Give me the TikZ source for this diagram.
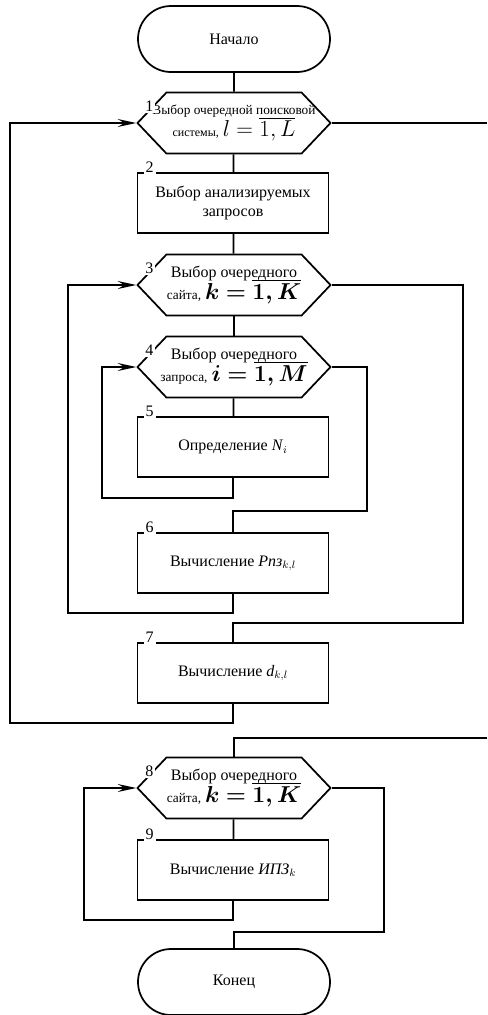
\documentclass[tikz,border=0pt]{standalone}
\usepackage{amsmath,amssymb}
\usepackage{bm}
\usepackage{fontspec}
\setmainfont{Liberation Serif}
\usetikzlibrary{positioning, shapes.misc, shapes.symbols, arrows.meta}

\tikzset{
  base/.style={draw, line width=1.3pt, font=\fontsize{12}{14}\selectfont, align=center, inner sep=0pt},
  term/.style={base, rounded rectangle, minimum width=144pt, minimum height=49.5pt},
  proc/.style={base, rectangle, minimum width=143.25pt, minimum height=45pt},
  hexa/.style={base, signal, signal to=west and east, signal pointer angle=93,
    minimum width=144.75pt, minimum height=45.75pt},
  htext/.style={align=center, inner sep=0pt, font=\fontsize{12}{14}\selectfont},
  num/.style={fill=white, inner sep=1.5pt, font=\fontsize{12}{14}\selectfont},
  wire/.style={line width=1.3pt},
  back/.style={wire, -{Stealth[length=14pt,width=6pt,inset=5pt]}}
}
\newcommand{\smallt}{\fontsize{10}{12}\selectfont}
\newcommand{\bigmath}{\fontsize{16}{18}\selectfont}

\begin{document}
\begin{tikzpicture}[x=0.75pt,y=-0.75pt]
    \useasboundingbox (0,0) rectangle (487,1015);

    \node[term] (start) at (234,39) {Начало};
    \node[hexa, label={[htext]center:{{\smallt Выбор очередной поисковой}\\[-1pt]
      {\fontsize{9}{11}\selectfont системы,} {\bigmath$l=\overline{1,L}$}}}] (h1) at (234,123) {};
    \node[proc] (b2) at (233,203) {Выбор анализируемых\\ запросов};
    \node[hexa, label={[htext]center:{Выбор очередного\\[-2pt]
      {\smallt сайта,} {\bigmath$\bm{k=\overline{1,K}}$}}}] (h3) at (234,285) {};
    \node[hexa, label={[htext]center:{Выбор очередного\\[-2pt]
      {\smallt запроса,} {\bigmath$\bm{i=\overline{1,M}}$}}}] (h4) at (234,367) {};
    \node[proc] (b5) at (233,447) {Определение \textit{N}$_i$};
    \node[proc] (b6) at (233,563) {Вычисление \textit{Рпз}$_{k,l}$};
    \node[proc] (b7) at (233,673) {Вычисление \textit{d}$_{k,l}$};
    \node[hexa, label={[htext]center:{Выбор очередного\\[-2pt]
      {\smallt сайта,} {\bigmath$\bm{k=\overline{1,K}}$}}}] (h8) at (234,788) {};
    \node[proc] (b9) at (233,870) {Вычисление \textit{ИПЗ}$_k$};
    \node[term] (end) at (234,982) {Конец};

    % номера блоков
    \foreach \n in {2,5,6,7,9}
      \node[num, anchor=base] at ([xshift=9.75pt]b\n.north west) {\n};
    \foreach \n in {1,3,4,8}
      \node[num] at ([xshift=9.75pt,yshift=12.75pt]h\n.west) {\n};

    % прямые связи
    \draw[wire] (start) -- (h1);
    \draw[wire] (h1) -- (b2);
    \draw[wire] (b2) -- (h3);
    \draw[wire] (h3) -- (h4);
    \draw[wire] (h4) -- (b5);
    \draw[wire] (h8) -- (b9);

    % цикл по запросам
    \draw[back] (b5.south) |- (102,498) |- (h4.west);
    \draw[wire] (h4.east) -| (367,511) -| (b6.north);
    % цикл по сайтам
    \draw[back] (b6.south) |- (68,613) |- (h3.west);
    \draw[wire] (h3.east) -| (463,623) -| (b7.north);
    % цикл по поисковым системам
    \draw[back] (b7.south) |- (10,723) |- (h1.west);
    \coordinate (r1) at (487,123);
    \draw[wire] (h1.east) -- (r1);
    \coordinate (r8) at (487,738);
    \draw[wire] (r8) -| (h8.north);
    % второй цикл по сайтам
    \draw[back] (b9.south) |- (84,920) |- (h8.west);
    \draw[wire] (h8.east) -| (384,932) -| (end.north);
\end{tikzpicture}
\end{document}
